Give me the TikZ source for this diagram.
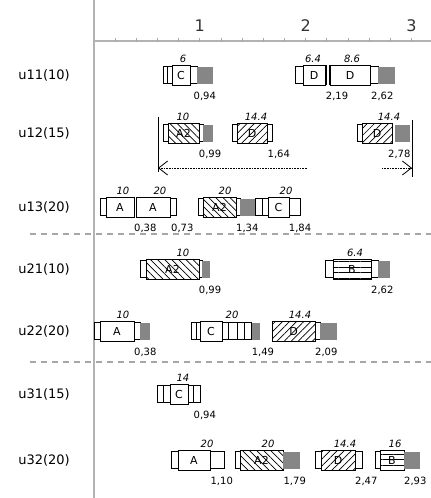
\documentclass[tikz,border=0pt]{standalone}
\usepackage{fontspec}
\setmainfont{DejaVu Sans}
\usetikzlibrary{arrows.meta, patterns.meta}

\begin{document}
\begin{tikzpicture}[x=1pt, y=-1pt,
    blk/.style={draw, line width=0.6pt, inner sep=0pt, outer sep=0pt, anchor=west, minimum height=20pt, font=\fontsize{11}{11}\selectfont},
    part/.style={draw, line width=0.6pt, inner sep=0pt, outer sep=0pt, anchor=west, minimum height=17pt},
    wait/.style={fill=gray!95, inner sep=0pt, outer sep=0pt, anchor=west, minimum height=17pt},
    wd/.style={minimum width=#1},
    hatchA/.style={pattern={Lines[angle=-45, distance=5pt, line width=0.7pt]}},
    hatchD/.style={pattern={Lines[angle=45, distance=5pt, line width=0.7pt]}},
    stripes/.style={pattern={Lines[angle=0, distance=5.5pt, line width=0.5pt]}},
    val/.style={anchor=base, inner sep=0pt, font=\fontsize{10}{10}\selectfont\itshape},
    fin/.style={anchor=base west, inner sep=0pt, font=\fontsize{10}{10}\selectfont},
    unit/.style={font=\fontsize{13}{13}\selectfont},
    tick/.style={anchor=base, inner sep=0pt, text=black!80, font=\fontsize{16}{16}\selectfont},
    sep/.style={gray!70, line width=2pt, dash pattern=on 6pt off 5pt},
    dim/.style={densely dotted, line width=0.6pt, -{Straight Barb[length=9pt, width=14pt, line width=0.8pt]}},
]
\useasboundingbox (0,0) rectangle (431,498);

% time axis
\draw[gray!60, line width=2.5pt] (94,0) -- (94,498);
\draw[gray!60, line width=1.5pt] (94,41) -- (431,41);
\foreach \i in {1,...,16}
    \draw[gray!70, line width=0.8pt] ({94+\i*21.16},38) -- ++(0,4);
\node[tick] (t1) at (199.8,31.5) {1};
\node[tick] (t2) at (305.6,31.5) {2};
\node[tick] (t3) at (411.4,31.5) {3};

% units
\node[unit] (u11) at (44,75) {u11(10)};
\node[unit] (u12) at (44,133) {u12(15)};
\node[unit] (u13) at (44,207) {u13(20)};
\node[unit] (u21) at (44,269) {u21(10)};
\node[unit] (u22) at (44,331) {u22(20)};
\node[unit] (u31) at (44,394) {u31(15)};
\node[unit] (u32) at (44,460) {u32(20)};

\draw[sep] (30,234) -- (431,234);
\draw[sep] (30,362) -- (431,362);

% u11
\node[part, wd=4] (a1) at (163,75) {};
\node[part, wd=5] (a2) at (167,75) {};
\node[blk, wd=18] (a3) at (172,75) {C};
\node[part, wd=7] (a4) at (190,75) {};
\node[wait, wd=16] (a5) at (197,75) {};
\node[val] (a6) at (183,62) {6};
\node[fin] (a7) at (193.5,99) {0,94};
\node[part, wd=8] (b1) at (295,75) {};
\node[blk, wd=22] (b2) at (303,75) {D};
\draw[line width=1.8pt] (326.5,65) -- (326.5,85) (330,65) -- (330,85);
\node[blk, wd=40] (b3) at (330,75) {D};
\node[part, wd=8] (b4) at (370,75) {};
\node[wait, wd=17] (b5) at (378,75) {};
\node[val] (b6) at (313,62) {6.4};
\node[val] (b7) at (352,62) {8.6};
\node[fin] (b8) at (325.7,99) {2,19};
\node[fin] (b9) at (371,99) {2,62};

% u12
\node[part, wd=5] (c1) at (163,133) {};
\node[blk, hatchA, wd=31] (c2) at (168,133) {A2};
\node[part, wd=4] (c3) at (199,133) {};
\node[wait, wd=10] (c4) at (203,133) {};
\node[val] (c5) at (183,120) {10};
\node[fin] (c6) at (198.7,157) {0,99};
\node[part, wd=5] (d1) at (232,133) {};
\node[blk, hatchD, wd=30] (d2) at (237,133) {D};
\node[part, wd=5] (d3) at (267,133) {};
\node[val] (d4) at (256,120) {14.4};
\node[fin] (d5) at (267.5,157) {1,64};
\node[part, wd=5] (e1) at (357,133) {};
\node[blk, hatchD, wd=30] (e2) at (362,133) {D};
\node[wait, wd=15] (e3) at (395,133) {};
\node[val] (e4) at (389,120) {14.4};
\node[fin] (e5) at (388,157) {2,78};
\coordinate (lt) at (158,117);
\coordinate (lb) at (158,172);
\coordinate (la) at (158,168);
\coordinate (ls) at (307,168);
\coordinate (rt) at (412,120);
\coordinate (rb) at (412,177);
\coordinate (ra) at (412,168);
\coordinate (rs) at (382,168);
\draw[line width=0.8pt] (lt) -- (lb);
\draw[line width=0.8pt] (rt) -- (rb);
\draw[dim] (ls) -- (la);
\draw[dim] (rs) -- (ra);

% u13
\node[part, wd=6] (f1) at (100,207) {};
\node[blk, wd=28] (f2) at (106,207) {A};
\node[val] (f3) at (123,194) {10};
\node[fin] (f4) at (134,231) {0,38};
\node[blk, wd=34] (g1) at (136,207) {A};
\node[part, wd=6] (g2) at (170,207) {};
\node[val] (g3) at (160,194) {20};
\node[fin] (g4) at (171,231) {0,73};
\node[part, wd=5] (h1) at (198,207) {};
\node[blk, hatchA, wd=33] (h2) at (203,207) {A2};
\node[part, wd=4] (h3) at (236,207) {};
\node[wait, wd=15] (h4) at (240,207) {};
\node[val] (h5) at (225,194) {20};
\node[fin] (h6) at (236,231) {1,34};
\node[part, wd=7] (k1) at (255,207) {};
\node[part, wd=6] (k2) at (262,207) {};
\node[blk, wd=21] (k3) at (268,207) {C};
\node[part, wd=11] (k4) at (289,207) {};
\node[val] (k5) at (286,194) {20};
\node[fin] (k6) at (288.7,231) {1,84};

% u21
\node[part, wd=6] (m1) at (140,269) {};
\node[blk, hatchA, wd=53] (m2) at (146,269) {A2};
\node[part, wd=3] (m3) at (199,269) {};
\node[wait, wd=8] (m4) at (202,269) {};
\node[val] (m5) at (183,256) {10};
\node[fin] (m6) at (198.7,293) {0,99};
\node[part, wd=8] (n1) at (325,269) {};
\node[blk, stripes, wd=38] (n2) at (333,269) {B};
\node[part, wd=7] (n3) at (371,269) {};
\node[wait, wd=12] (n4) at (378,269) {};
\node[val] (n5) at (355,256) {6.4};
\node[fin] (n6) at (371,293) {2,62};

% u22
\node[part, wd=6] (p1) at (94,331) {};
\node[blk, wd=34] (p2) at (100,331) {A};
\node[part, wd=6] (p3) at (134,331) {};
\node[wait, wd=10] (p4) at (140,331) {};
\node[val] (p5) at (123,318) {10};
\node[fin] (p6) at (134,355) {0,38};
\node[part, wd=5] (q1) at (191,331) {};
\node[part, wd=4] (q2) at (196,331) {};
\node[blk, wd=22] (q3) at (200,331) {C};
\node[part, wd=6] (q4) at (222,331) {};
\node[part, wd=9] (q5) at (228,331) {};
\node[part, wd=7] (q6) at (237,331) {};
\node[part, wd=7] (q7) at (244,331) {};
\node[wait, wd=8] (q8) at (251.6,331) {};
\node[val] (q9) at (232,318) {20};
\node[fin] (q10) at (251.6,355) {1,49};
\node[blk, hatchD, wd=43] (s1) at (272,331) {D};
\node[part, wd=5] (s2) at (315,331) {};
\node[wait, wd=17] (s3) at (320,331) {};
\node[val] (s4) at (300,318) {14.4};
\node[fin] (s5) at (315,355) {2,09};

% u31
\node[part, wd=6] (v1) at (157,394) {};
\node[part, wd=7] (v2) at (163,394) {};
\node[blk, wd=18] (v3) at (170,394) {C};
\node[part, wd=5.5] (v4) at (188,394) {};
\node[part, wd=6.5] (v5) at (193.5,394) {};
\node[val] (v6) at (183,381) {14};
\node[fin] (v7) at (193.5,418) {0,94};

% u32
\node[part, wd=7] (x1) at (171,460) {};
\node[blk, wd=32] (x2) at (178,460) {A};
\node[part, wd=14] (x3) at (210,460) {};
\node[val] (x4) at (207,447) {20};
\node[fin] (x5) at (210.4,484) {1,10};
\node[part, wd=5] (y1) at (235,460) {};
\node[blk, hatchA, wd=43] (y2) at (240,460) {A2};
\node[wait, wd=17] (y3) at (283,460) {};
\node[val] (y4) at (268,447) {20};
\node[fin] (y5) at (283.4,484) {1,79};
\node[part, wd=6] (z1) at (315,460) {};
\node[blk, hatchD, wd=34] (z2) at (321,460) {D};
\node[part, wd=7] (z3) at (355,460) {};
\node[val] (z4) at (345,447) {14.4};
\node[fin] (z5) at (355,484) {2,47};
\node[part, wd=5] (w1) at (375,460) {};
\node[blk, stripes, wd=24] (w2) at (380,460) {B};
\node[wait, wd=16] (w3) at (404,460) {};
\node[val] (w4) at (395,447) {16};
\node[fin] (w5) at (404,484) {2,93};

\end{tikzpicture}
\end{document}
